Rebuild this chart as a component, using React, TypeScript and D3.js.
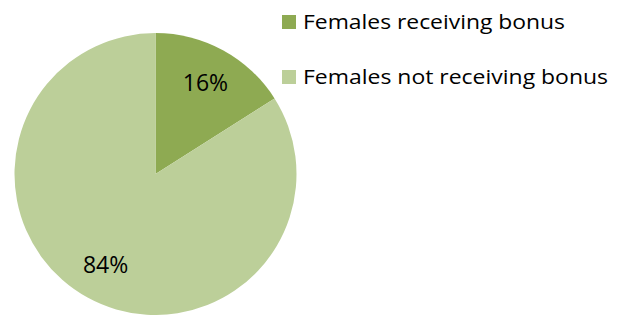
import { useEffect, useRef } from "react";
import * as d3 from "d3";

const categories = ["Females receiving bonus", "Females not receiving bonus"];
const shares = [16, 84];
const colors = ["#8eaa52", "#bccf99"];

export default function App() {
  const svgRef = useRef<SVGSVGElement>(null);
  const width = 629;
  const height = 315;

  useEffect(() => {
    const svg = d3.select(svgRef.current);
    svg.selectAll("*").remove();

    const cx = 155.5;
    const cy = 174;
    const radius = 141;

    const pie = d3
      .pie<number>()
      .sort(null)
      .value((d) => d);
    const arc = d3.arc<d3.PieArcDatum<number>>().innerRadius(0).outerRadius(radius);
    const labelArc = d3
      .arc<d3.PieArcDatum<number>>()
      .innerRadius(radius * 0.735)
      .outerRadius(radius * 0.735);

    const g = svg.append("g").attr("transform", `translate(${cx},${cy})`);
    const arcs = pie(shares);

    g.selectAll("path")
      .data(arcs)
      .enter()
      .append("path")
      .attr("d", arc)
      .attr("fill", (_, i) => colors[i]);

    g.selectAll("text")
      .data(arcs)
      .enter()
      .append("text")
      .attr("transform", (d) => {
        const [x, y] = labelArc.centroid(d);
        return `translate(${x},${y})`;
      })
      .attr("text-anchor", "middle")
      .attr("dy", "0.35em")
      .attr("font-family", "'Open Sans', sans-serif")
      .attr("font-size", 23)
      .attr("fill", "#000")
      .text((d) => `${d.data}%`);

    const legend = svg
      .selectAll(".legend")
      .data(categories)
      .enter()
      .append("g")
      .attr("class", "legend")
      .attr("transform", (_, i) => `translate(282,${15 + i * 55})`);

    legend
      .append("rect")
      .attr("width", 14)
      .attr("height", 14)
      .attr("fill", (_, i) => colors[i]);

    legend
      .append("text")
      .attr("x", 21)
      .attr("y", 14)
      .attr("font-family", "'Open Sans', sans-serif")
      .attr("font-size", 20)
      .attr("fill", "#000")
      .attr("textLength", (_, i) => (i === 0 ? 262 : 305))
      .attr("lengthAdjust", "spacingAndGlyphs")
      .text((d) => d);
  }, []);

  return (
    <svg
      ref={svgRef}
      width={width}
      height={height}
      style={{ position: "absolute", left: 0, top: 0, background: "#fff" }}
    ></svg>
  );
}
